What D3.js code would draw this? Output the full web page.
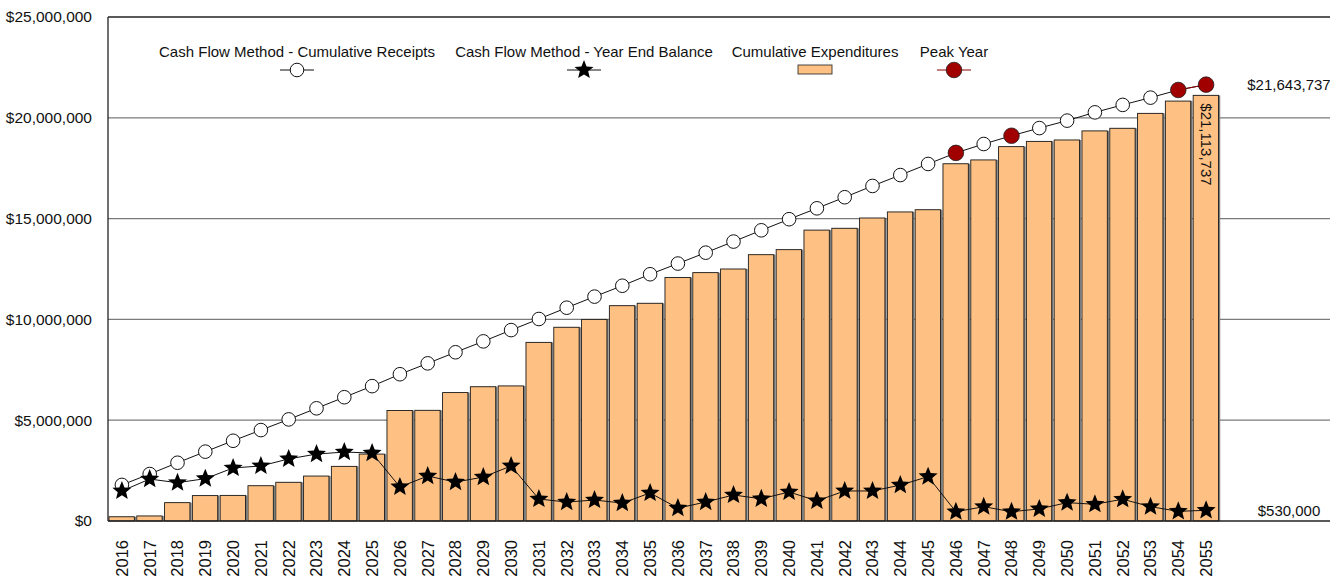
<!DOCTYPE html>
<html>
<head>
<meta charset="utf-8">
<script src="https://cdn.jsdelivr.net/npm/d3@7"></script>
<style>
  body { margin: 0; background: #fff; }
  svg { display: block; }
  text { font-family: "Liberation Sans", Arial, sans-serif; }
</style>
</head>
<body>
<div id="chart"></div>
<script>
var years = [2016, 2017, 2018, 2019, 2020, 2021, 2022, 2023, 2024, 2025,
  2026, 2027, 2028, 2029, 2030, 2031, 2032, 2033, 2034, 2035,
  2036, 2037, 2038, 2039, 2040, 2041, 2042, 2043, 2044, 2045,
  2046, 2047, 2048, 2049, 2050, 2051, 2052, 2053, 2054, 2055]

// cumulative expenditures (bars)
var expenditures = [210000, 250000, 910000, 1260000, 1270000, 1750000, 1920000, 2230000, 2710000, 3320000,
  5480000, 5490000, 6370000, 6660000, 6700000, 8860000, 9610000, 10000000, 10680000, 10800000,
  12080000, 12320000, 12500000, 13210000, 13460000, 14430000, 14520000, 15030000, 15330000, 15440000,
  17720000, 17910000, 18570000, 18830000, 18900000, 19350000, 19480000, 20220000, 20830000, 21113737]

// cash flow method - cumulative receipts (open circles)
var receipts = [1790000, 2330000, 2890000, 3440000, 3980000, 4510000, 5040000, 5590000, 6140000, 6690000,
  7280000, 7820000, 8370000, 8910000, 9470000, 10020000, 10580000, 11130000, 11670000, 12240000,
  12770000, 13310000, 13860000, 14420000, 14970000, 15510000, 16060000, 16620000, 17160000, 17710000,
  18260000, 18700000, 19110000, 19490000, 19860000, 20270000, 20640000, 21000000, 21380000, 21643737]

// cash flow method - year end balance (stars)
var balance = [1490000, 2080000, 1900000, 2100000, 2630000, 2730000, 3080000, 3320000, 3420000, 3370000,
  1690000, 2230000, 1930000, 2180000, 2730000, 1090000, 940000, 1040000, 890000, 1390000,
  640000, 940000, 1290000, 1100000, 1440000, 1000000, 1490000, 1490000, 1780000, 2200000,
  460000, 710000, 460000, 600000, 910000, 830000, 1080000, 710000, 480000, 530000]

var peakYears = [2046, 2048, 2054, 2055]
var yTicks = [0, 5000000, 10000000, 15000000, 20000000, 25000000]
var legendItems = ['Cash Flow Method - Cumulative Receipts', 'Cash Flow Method - Year End Balance', 'Cumulative Expenditures', 'Peak Year']

var width = 1330, height = 579
var fmt = d3.format('$,')
var font = '"Liberation Sans", Arial, sans-serif'

var svg = d3.select('#chart').append('svg')
  .attr('width', width).attr('height', height)
  .attr('font-family', font)

var x = d3.scaleBand().domain(years).range([108, 1220]).paddingInner(0.07).paddingOuter(0.035)
var y = d3.scaleLinear().domain([0, 25000000]).range([521, 17])
var cx = d => x(d) + x.bandwidth() / 2

// gridlines
svg.append('g').selectAll('line').data(yTicks.slice(1, -1)).enter().append('line')
  .attr('x1', 108).attr('x2', width).attr('y1', d => y(d)).attr('y2', d => y(d))
  .attr('stroke', '#7a7a7a').attr('stroke-width', 1.3)

// y axis labels
var yAxis = svg.append('g').attr('transform', 'translate(108,0)')
  .call(d3.axisLeft(y).tickValues(yTicks).tickSize(0).tickPadding(16).tickFormat(fmt))
yAxis.attr('font-family', font).attr('font-size', null)
yAxis.select('.domain').remove()
yAxis.selectAll('text').attr('font-size', '15.5px').attr('fill', '#111')

// bars
var rows = years.map((yr, i) => ({year: yr, exp: expenditures[i], rec: receipts[i], bal: balance[i]}))
var bars = svg.append('g')
bars.selectAll('rect.shadow').data(rows).enter().append('rect').attr('class', 'shadow')
  .attr('x', d => x(d.year) + 1.2).attr('y', d => y(d.exp))
  .attr('width', x.bandwidth()).attr('height', d => y(0) - y(d.exp))
  .attr('fill', '#7d7d7d')
bars.selectAll('rect.bar').data(rows).enter().append('rect').attr('class', 'bar')
  .attr('x', d => x(d.year)).attr('y', d => y(d.exp))
  .attr('width', x.bandwidth() - 0.5).attr('height', d => y(0) - y(d.exp))
  .attr('fill', '#fec183').attr('stroke', '#1a1a1a').attr('stroke-width', 0.9)

// frame
svg.append('line').attr('x1', 108).attr('x2', width).attr('y1', y(25000000)).attr('y2', y(25000000))
  .attr('stroke', '#222').attr('stroke-width', 1.3)
svg.append('line').attr('x1', 108).attr('x2', width).attr('y1', y(0)).attr('y2', y(0))
  .attr('stroke', '#222').attr('stroke-width', 1.5)
svg.append('line').attr('x1', 108).attr('x2', 108).attr('y1', y(25000000)).attr('y2', y(0))
  .attr('stroke', '#222').attr('stroke-width', 1.3)

// x axis labels
var xAxis = svg.append('g').attr('transform', `translate(0,${y(0)})`)
  .call(d3.axisBottom(x).tickSize(0))
xAxis.attr('font-family', font).attr('font-size', null)
xAxis.select('.domain').remove()
xAxis.selectAll('text')
  .attr('transform', 'rotate(-90)').attr('x', -19).attr('y', 0).attr('dy', '0.36em')
  .style('text-anchor', 'end').attr('font-size', '16.5px').attr('fill', '#111')

// star shape
var starPath = (r, r2) => {
  var pts = []
  for (var k = 0; k < 10; k++) {
    var a = -Math.PI / 2 + k * Math.PI / 5
    var rr = k % 2 ? r2 : r
    pts.push([Math.cos(a) * rr, Math.sin(a) * rr])
  }
  return 'M' + pts.map(p => p[0].toFixed(2) + ',' + p[1].toFixed(2)).join('L') + 'Z'
}
var star = starPath(10, 4.4)

// receipts line + circles
svg.append('path').datum(rows)
  .attr('d', d3.line().x(d => cx(d.year)).y(d => y(d.rec)))
  .attr('fill', 'none').attr('stroke', '#111').attr('stroke-width', 1)
svg.append('g').selectAll('circle').data(rows).enter().append('circle')
  .attr('cx', d => cx(d.year)).attr('cy', d => y(d.rec)).attr('r', 6.8)
  .attr('fill', '#fff').attr('stroke', '#111').attr('stroke-width', 1)

// balance line + stars
svg.append('path').datum(rows)
  .attr('d', d3.line().x(d => cx(d.year)).y(d => y(d.bal)))
  .attr('fill', 'none').attr('stroke', '#111').attr('stroke-width', 1)
svg.append('g').selectAll('path').data(rows).enter().append('path')
  .attr('d', star).attr('transform', d => `translate(${cx(d.year)},${y(d.bal)})`)
  .attr('fill', '#000')

// peak years
var peakRows = rows.map(d => ({year: d.year, v: peakYears.includes(d.year) ? d.rec : null}))
svg.append('path').datum(peakRows)
  .attr('d', d3.line().defined(d => d.v !== null).x(d => cx(d.year)).y(d => y(d.v)))
  .attr('fill', 'none').attr('stroke', '#8b0000').attr('stroke-width', 1)
svg.append('g').selectAll('circle').data(peakRows.filter(d => d.v !== null)).enter().append('circle')
  .attr('cx', d => cx(d.year)).attr('cy', d => y(d.v)).attr('r', 7.8)
  .attr('fill', '#a00000').attr('stroke', '#222').attr('stroke-width', 0.8)

// end labels
var last = rows[rows.length - 1]
svg.append('text').attr('x', 1289).attr('y', y(last.rec)).attr('dy', '0.35em')
  .attr('text-anchor', 'middle').attr('font-size', '15px').attr('fill', '#111').text(fmt(last.rec))
svg.append('text').attr('x', 1289).attr('y', y(last.bal)).attr('dy', '0.35em')
  .attr('text-anchor', 'middle').attr('font-size', '15px').attr('fill', '#111').text(fmt(last.bal))
svg.append('text')
  .attr('transform', `translate(${cx(last.year)},${y(last.exp) + 8}) rotate(90)`)
  .attr('dy', '0.36em').attr('font-size', '15px').attr('fill', '#111').text(fmt(last.exp))

// legend
var legendX = [297, 584, 815, 954]
var leg = svg.append('g').selectAll('g').data(legendItems).enter().append('g')
  .attr('transform', (d, i) => `translate(${legendX[i]},0)`)
leg.append('text').attr('y', 52).attr('dy', '0.35em').attr('text-anchor', 'middle')
  .attr('font-size', '15px').attr('fill', '#111').text(d => d)
leg.filter((d, i) => i !== 2).append('line')
  .attr('x1', -17).attr('x2', 17).attr('y1', 70).attr('y2', 70)
  .attr('stroke', d => d === 'Peak Year' ? '#8b0000' : '#111').attr('stroke-width', 1)
leg.filter((d, i) => i === 0).append('circle').attr('cy', 70).attr('r', 6.8)
  .attr('fill', '#fff').attr('stroke', '#111')
leg.filter((d, i) => i === 1).append('path').attr('d', star).attr('transform', 'translate(0,70)')
leg.filter((d, i) => i === 2).append('rect').attr('x', -17).attr('y', 65).attr('width', 34).attr('height', 9)
  .attr('fill', '#fec183').attr('stroke', '#333').attr('stroke-width', 0.9)
leg.filter((d, i) => i === 3).append('circle').attr('cy', 70).attr('r', 7.8)
  .attr('fill', '#a00000').attr('stroke', '#222').attr('stroke-width', 0.8)
</script>
</body>
</html>
